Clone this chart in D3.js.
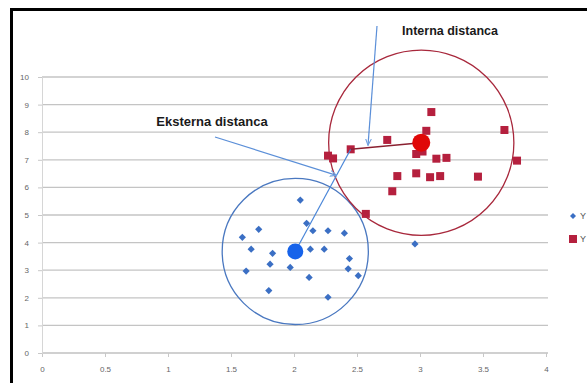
<!DOCTYPE html>
<html><head><meta charset="utf-8">
<script src="https://cdn.jsdelivr.net/npm/d3@7"></script>
<style>body{margin:0;background:#fff}svg{display:block}</style>
</head><body>
<svg id="c" width="587" height="383"></svg>
<script>
const xTicks = [0,0.5,1,1.5,2,2.5,3,3.5,4];
const yTicks = [0,1,2,3,4,5,6,7,8,9,10];
const blueX = [2.05,1.72,1.59,1.66,1.83,1.81,1.62,1.80,1.97,2.10,2.15,2.13,2.24,2.12,2.27,2.40,2.44,2.43,2.51,2.27,2.96];
const blueY = [5.54,4.48,4.19,3.76,3.61,3.22,2.97,2.26,3.10,4.70,4.43,3.76,3.76,2.74,4.43,4.34,3.42,3.05,2.80,2.02,3.95];
const redX = [3.09,3.05,3.67,2.74,2.45,2.27,2.31,2.97,3.13,3.21,3.77,2.82,2.97,3.08,3.16,3.46,2.78,2.57,3.02];
const redY = [8.73,8.05,8.08,7.72,7.38,7.15,7.05,7.21,7.04,7.07,6.97,6.41,6.51,6.37,6.41,6.39,5.86,5.04,7.30];
const blueCentroid = [2.01,3.68];
const redCentroid = [3.01,7.62];
const blueRadius = 0.58;   // in x units
const redRadius = 0.735;
const nearRed = [2.45,7.38];
const legendLabels = ["Y","Y"];

const svg = d3.select("#c");
const x = d3.scaleLinear().domain([0,4]).range([42,546]);
const y = d3.scaleLinear().domain([0,10]).range([353,77]);
const blue = "#3b6fc4", red = "#b5203e";

// frame
svg.append("line").attr("x1",11.5).attr("x2",11.5).attr("y1",8).attr("y2",383).attr("stroke","#000").attr("stroke-width",3);
svg.append("line").attr("x1",10).attr("x2",587).attr("y1",9.5).attr("y2",9.5).attr("stroke","#000").attr("stroke-width",3);

// gridlines
svg.append("g").selectAll("line").data(yTicks.filter(d=>d>0)).join("line")
  .attr("x1",x(0)).attr("x2",548).attr("y1",d=>y(d)).attr("y2",d=>y(d))
  .attr("stroke","#c4c4c4").attr("stroke-width",1.3);

// axes
const xa = svg.append("g").attr("transform",`translate(0,${y(0)})`)
  .call(d3.axisBottom(x).tickValues(xTicks).tickSize(4).tickFormat(d=>d));
xa.select(".domain").attr("stroke","#c0c0c0").attr("stroke-width",1.3).attr("d",`M${x(0)},0H548`);
xa.selectAll(".tick line").attr("stroke","#c8c8c8");
xa.selectAll("text").attr("fill","#666").attr("font-size",8).attr("font-family","Liberation Sans, Arial").attr("dy",12);
const ya = svg.append("g").attr("transform",`translate(${x(0)},0)`)
  .call(d3.axisLeft(y).tickValues(yTicks).tickSize(4).tickFormat(d=>d));
ya.select(".domain").attr("stroke","#d6d6d6").attr("stroke-width",1);
ya.selectAll(".tick line").attr("stroke","#c8c8c8");
ya.selectAll("text").attr("fill","#666").attr("font-size",8).attr("font-family","Liberation Sans, Arial").attr("dx",-6);

// circles
svg.append("circle").attr("cx",x(blueCentroid[0])).attr("cy",y(blueCentroid[1]))
  .attr("r",x(blueCentroid[0]+blueRadius)-x(blueCentroid[0])).attr("fill","none").attr("stroke","#4a78c0").attr("stroke-width",1.3);
svg.append("circle").attr("cx",x(redCentroid[0])).attr("cy",y(redCentroid[1]))
  .attr("r",x(redCentroid[0]+redRadius)-x(redCentroid[0])).attr("fill","none").attr("stroke","#a8283c").attr("stroke-width",1.3);

// defs arrow
const defs = svg.append("defs");
defs.append("marker").attr("id","arr").attr("viewBox","0 0 10 10").attr("refX",9).attr("refY",5)
  .attr("markerWidth",6).attr("markerHeight",6).attr("orient","auto")
  .append("path").attr("d","M0,1L9,5L0,9").attr("fill","none").attr("stroke","#6fa0e0").attr("stroke-width",1.5);

// blue points (diamonds = rotated squares)
svg.append("g").selectAll("path").data(blueX.map((v,i)=>[v,blueY[i]])).join("path")
  .attr("d",d3.symbol(d3.symbolSquare,26)())
  .attr("transform",d=>`translate(${x(d[0])},${y(d[1])}) rotate(45)`).attr("fill",blue);
// red points
svg.append("g").selectAll("rect").data(redX.map((v,i)=>[v,redY[i]])).join("rect")
  .attr("x",d=>x(d[0])-4).attr("y",d=>y(d[1])-4).attr("width",8).attr("height",8).attr("fill",red);

// lines between
svg.append("line").attr("x1",x(blueCentroid[0])).attr("y1",y(blueCentroid[1])).attr("x2",x(nearRed[0])).attr("y2",y(nearRed[1]))
  .attr("stroke","#4a86d8").attr("stroke-width",1.2);
svg.append("line").attr("x1",x(nearRed[0])).attr("y1",y(nearRed[1])).attr("x2",x(redCentroid[0])).attr("y2",y(redCentroid[1]))
  .attr("stroke","#8a2030").attr("stroke-width",1.5);

// centroids
svg.append("circle").attr("cx",x(blueCentroid[0])).attr("cy",y(blueCentroid[1])).attr("r",8).attr("fill","#1763ea");
svg.append("circle").attr("cx",x(redCentroid[0])).attr("cy",y(redCentroid[1])).attr("r",9).attr("fill","#e00808");

// annotation arrows
const ext = 0.745;
const ex = x(blueCentroid[0]) + ext*(x(nearRed[0])-x(blueCentroid[0]));
const ey = y(blueCentroid[1]) + ext*(y(nearRed[1])-y(blueCentroid[1]));
svg.append("line").attr("x1",215).attr("y1",137).attr("x2",ex).attr("y2",ey)
  .attr("stroke","#5b8fd8").attr("stroke-width",1.2).attr("marker-end","url(#arr)");
const iy = y(nearRed[1]) + 0.45*(y(redCentroid[1])-y(nearRed[1]));
svg.append("line").attr("x1",377).attr("y1",26).attr("x2",368).attr("y2",iy-1)
  .attr("stroke","#5b8fd8").attr("stroke-width",1.2).attr("marker-end","url(#arr)");

// texts
svg.append("text").attr("x",212).attr("y",126).attr("text-anchor","middle")
  .attr("font-family","Liberation Sans, Arial").attr("font-weight","bold").attr("font-size",13).attr("fill","#1a1a1a").text("Eksterna distanca");
svg.append("text").attr("x",450).attr("y",35).attr("text-anchor","middle")
  .attr("font-family","Liberation Sans, Arial").attr("font-weight","bold").attr("font-size",12.5).attr("fill","#1a1a1a").text("Interna distanca");

// legend
const lg = svg.append("g");
lg.append("path").attr("d",d3.symbol(d3.symbolSquare,18)()).attr("transform","translate(573,216) rotate(45)").attr("fill",blue);
lg.append("rect").attr("x",569).attr("y",235).attr("width",8).attr("height",8).attr("fill",red);
lg.selectAll("text").data(legendLabels).join("text").attr("x",580).attr("y",(d,i)=>219+i*23)
  .attr("font-family","Liberation Sans, Arial").attr("font-size",9).attr("fill","#555").text(d=>d);
</script>
</body></html>
